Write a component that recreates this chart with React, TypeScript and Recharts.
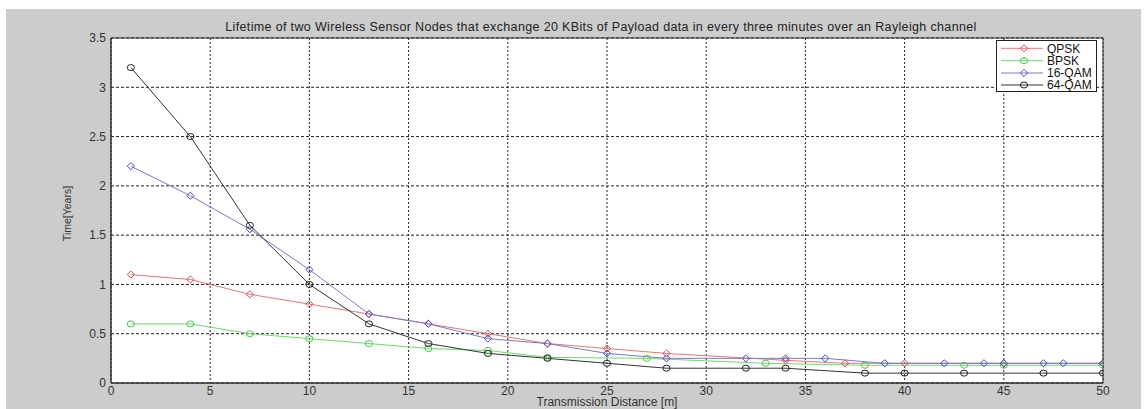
import React from 'react';
import { LineChart, Line, XAxis, YAxis, CartesianGrid, ReferenceArea } from 'recharts';

const TITLE = 'Lifetime of two Wireless Sensor Nodes that exchange 20 KBits of Payload data in every three minutes over an Rayleigh channel';
const X_LABEL = 'Transmission Distance [m]';
const Y_LABEL = 'Time[Years]';

const xTicks = [0, 5, 10, 15, 20, 25, 30, 35, 40, 45, 50];
const yTicks = [0, 0.5, 1, 1.5, 2, 2.5, 3, 3.5];

const qpskX = [1, 4, 7, 10, 13, 16, 19, 22, 25, 28, 34, 37, 40, 45, 50];
const qpskY = [1.1, 1.05, 0.9, 0.8, 0.7, 0.6, 0.5, 0.4, 0.35, 0.3, 0.23, 0.2, 0.2, 0.2, 0.2];

const bpskX = [1, 4, 7, 10, 13, 16, 19, 22, 27, 33, 38, 43, 45, 50];
const bpskY = [0.6, 0.6, 0.5, 0.45, 0.4, 0.35, 0.33, 0.26, 0.25, 0.2, 0.18, 0.18, 0.18, 0.18];

const qam16X = [1, 4, 7, 10, 13, 16, 19, 22, 25, 28, 32, 34, 36, 39, 42, 44, 45, 47, 48, 50];
const qam16Y = [2.2, 1.9, 1.56, 1.15, 0.7, 0.6, 0.45, 0.4, 0.3, 0.25, 0.25, 0.25, 0.25, 0.2, 0.2, 0.2, 0.2, 0.2, 0.2, 0.2];

const qam64X = [1, 4, 7, 10, 13, 16, 19, 22, 25, 28, 32, 34, 38, 40, 43, 47, 50];
const qam64Y = [3.2, 2.5, 1.6, 1.0, 0.6, 0.4, 0.3, 0.25, 0.2, 0.15, 0.15, 0.15, 0.1, 0.1, 0.1, 0.1, 0.1];

const seriesNames = ['QPSK', 'BPSK', '16-QAM', '64-QAM'];
const lineColors = ['#e07a7a', '#6fd86f', '#7b7bc8', '#333333'];
const markerColors = ['#d05050', '#4cc84c', '#4a4ac0', '#222222'];
const markerShapes = ['diamond', 'circle', 'diamond', 'circle'];

const toRows = (xs: number[], ys: number[]) => xs.map((x, i) => ({ x, y: ys[i] }));

const seriesData = [
  toRows(qpskX, qpskY),
  toRows(bpskX, bpskY),
  toRows(qam16X, qam16Y),
  toRows(qam64X, qam64Y),
];

const FONT = 'Arial, "Liberation Sans", Helvetica, sans-serif';

function Marker({ cx, cy, shape, color }: { cx: number; cy: number; shape: string; color: string }) {
  if (shape === 'diamond') {
    return (
      <polygon
        points={`${cx},${cy - 3.6} ${cx + 3.6},${cy} ${cx},${cy + 3.6} ${cx - 3.6},${cy}`}
        fill="none"
        stroke={color}
        strokeWidth={1}
      />
    );
  }
  return <ellipse cx={cx} cy={cy} rx={3.6} ry={3} fill="none" stroke={color} strokeWidth={1} />;
}

function makeDot(si: number) {
  return (props: any) => {
    const { cx, cy, index } = props;
    if (cx == null || cy == null) return <g key={`e-${si}-${index}`} />;
    return (
      <g key={`d-${si}-${index}`}>
        <Marker cx={cx} cy={cy} shape={markerShapes[si]} color={markerColors[si]} />
      </g>
    );
  };
}

function Legend() {
  const rowY = [8.3, 20.7, 33, 45];
  return (
    <svg width={102} height={53} style={{ position: 'absolute', left: 996, top: 40 }}>
      <rect x={0.5} y={0.5} width={100} height={51} fill="#fff" stroke="#222" strokeWidth={1} />
      {seriesNames.map((name, i) => (
        <g key={name}>
          <line x1={5} x2={47} y1={rowY[i]} y2={rowY[i]} stroke={lineColors[i]} strokeWidth={1} />
          <Marker cx={28} cy={rowY[i]} shape={markerShapes[i]} color={markerColors[i]} />
          <text x={51} y={rowY[i]} dy="0.36em" fontSize={12} fontFamily={FONT} fill="#111">
            {name}
          </text>
        </g>
      ))}
    </svg>
  );
}

export default function App() {
  return (
    <div
      style={{
        position: 'fixed',
        left: 0,
        top: 0,
        width: 1148,
        height: 409,
        background: '#fff',
        fontFamily: FONT,
        overflow: 'hidden',
      }}
    >
      <div style={{ position: 'absolute', left: 6, top: 9, width: 1135, height: 400, background: '#cccccc' }} />
      <div style={{ position: 'absolute', left: 0, top: 0 }}>
        <LineChart width={1148} height={409} margin={{ top: 38, right: 45, bottom: 0, left: 50 }}>
          <CartesianGrid
            fill="#ffffff"
            vertical={false}
            stroke="#222"
            strokeDasharray="3 2"
            horizontalValues={yTicks}
          />
          <CartesianGrid
            horizontal={false}
            stroke="#222"
            strokeDasharray="2 2"
            verticalValues={xTicks}
          />
          <XAxis
            type="number"
            dataKey="x"
            domain={[0, 50]}
            ticks={xTicks}
            allowDataOverflow
            height={26}
            tickSize={3}
            tickMargin={0}
            tickLine={false}
            axisLine={{ stroke: '#333' }}
            tick={{ fontSize: 12, fill: '#333', fontFamily: FONT }}
            label={(props: any) => {
              const vb = props.viewBox;
              return (
                <text
                  x={vb.x + vb.width / 2}
                  y={vb.y + 19}
                  dy="0.36em"
                  textAnchor="middle"
                  fontSize={12}
                  fontFamily={FONT}
                  fill="#333"
                >
                  {X_LABEL}
                </text>
              );
            }}
          />
          <YAxis
            type="number"
            domain={[0, 3.5]}
            ticks={yTicks}
            allowDataOverflow
            width={61}
            tickSize={3}
            tickMargin={2}
            tickLine={false}
            axisLine={{ stroke: '#333' }}
            tick={{ fontSize: 12, fill: '#333', fontFamily: FONT }}
            label={(props: any) => {
              const vb = props.viewBox;
              const cx = vb.x + 17;
              const cy = vb.y + vb.height / 2 + 3;
              return (
                <text
                  x={cx}
                  y={cy}
                  dy="0.36em"
                  textAnchor="middle"
                  fontSize={10.5}
                  fontFamily={FONT}
                  fill="#333"
                  transform={`rotate(-90 ${cx} ${cy})`}
                >
                  {Y_LABEL}
                </text>
              );
            }}
          />
          <ReferenceArea x1={0} x2={50} y1={0} y2={3.5} fill="none" stroke="#333" strokeWidth={1} ifOverflow="visible" />
          {seriesData.map((d, i) => (
            <Line
              key={seriesNames[i]}
              data={d}
              dataKey="y"
              name={seriesNames[i]}
              type="linear"
              stroke={lineColors[i]}
              strokeWidth={1}
              dot={makeDot(i)}
              activeDot={false}
              isAnimationActive={false}
            />
          ))}
        </LineChart>
      </div>
      <div
        style={{
          position: 'absolute',
          left: 105,
          width: 992,
          top: 20,
          textAlign: 'center',
          fontSize: 12.5,
          letterSpacing: 0.35,
          lineHeight: '14px',
          color: '#222',
          whiteSpace: 'nowrap',
        }}
      >
        {TITLE}
      </div>
      <Legend />
    </div>
  );
}
